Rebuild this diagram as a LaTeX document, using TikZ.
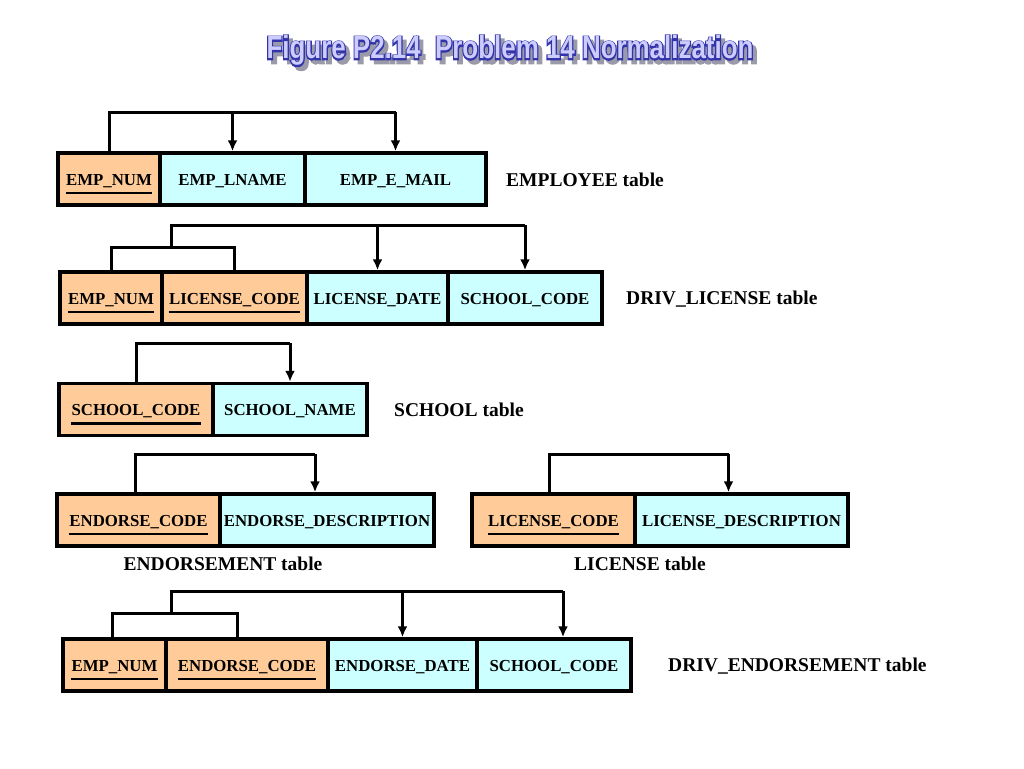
\documentclass[tikz,border=0pt]{standalone}
\usepackage{fontspec}
\setmainfont{Liberation Serif}
\newfontfamily\titlefont{Liberation Sans Bold}
\newfontfamily\titleoutline{Liberation Sans Bold}[FakeBold=9]
\usepackage{tikz}
\usetikzlibrary{arrows.meta}
\definecolor{keyorange}{HTML}{FFCC99}
\definecolor{attrcyan}{HTML}{CCFFFF}
\definecolor{titlefill}{HTML}{CCCCFF}
\definecolor{titleline}{HTML}{3333AA}
\definecolor{titleshade}{HTML}{9A9AA8}
\newcommand{\nffieldfont}{\fontsize{16.8}{18}\selectfont\bfseries}
\newcommand{\nflabelfont}{\fontsize{19.5}{22}\selectfont\bfseries}
\newcommand{\nftitletext}{Figure P2.14\ \ Problem 14 Normalization}
\tikzset{
  keycell/.style={rectangle, draw, line width=3.5pt, fill=keyorange, minimum height=52pt, inner sep=0pt},
  attrcell/.style={rectangle, draw, line width=3.5pt, fill=attrcyan, minimum height=52pt, inner sep=0pt},
  fieldtext/.style={font=\nffieldfont, inner sep=0pt, anchor=base},
  tablename/.style={font=\nflabelfont, inner sep=0pt},
  titletext/.style={inner sep=0pt, anchor=base},
  dep/.style={line width=3pt}
}
\newcommand{\nfkey}[4] {\node at (#1) (#2) [keycell, minimum width=#3pt] {}; \node at ([yshift=-6pt]#2.center) (#2-t) [fieldtext] {#4}; \draw [line width=2.5pt] ([yshift=-8pt]#2-t.base west) -- ([yshift=-8pt]#2-t.base east);}
\newcommand{\nfattr}[4] {\node at (#1) (#2) [attrcell, minimum width=#3pt] {}; \node at ([yshift=-6pt]#2.center) (#2-t) [fieldtext] {#4};}
\newcommand{\nfarrow}[2] {\draw [dep, -{Latex[length=11pt,width=10pt]}] (#1) -- (#2);}

\begin{document}
\begin{tikzpicture}[x=1pt, y=-1pt]
\useasboundingbox (0,0) rectangle (1024,768);

% title
\node at (514,63) (shadow) [titletext, text=titleshade] {\scalebox{0.81}[1]{\titleoutline\fontsize{32}{34}\selectfont\nftitletext}};
\node at (510,59) (titleback) [titletext, text=titleline] {\scalebox{0.81}[1]{\titleoutline\fontsize{32}{34}\selectfont\nftitletext}};
\node at (510,59) (title) [titletext, text=titlefill] {\scalebox{0.81}[1]{\titlefont\fontsize{32}{34}\selectfont\nftitletext}};

% EMPLOYEE
\nfkey {109,179} {e1num} {102} {EMP\_NUM};
\nfattr {232.5,179} {e1lname} {145} {EMP\_LNAME};
\nfattr {395.5,179} {e1mail} {181} {EMP\_E\_MAIL};
\coordinate (e1top) at (0,112);
\draw [dep] (e1num.north) |- (e1mail.north |- e1top);
\nfarrow{e1lname.north |- e1top}{e1lname.north};
\nfarrow{e1mail.north |- e1top}{e1mail.north};
\node at (506,180) (e1label) [tablename, anchor=west] {EMPLOYEE table};

% DRIV_LICENSE
\nfkey {111,298} {d2emp} {102} {EMP\_NUM};
\nfkey {234.5,298} {d2code} {145} {LICENSE\_CODE};
\nfattr {377.5,298} {d2date} {141} {LICENSE\_DATE};
\nfattr {525,298} {d2school} {154} {SCHOOL\_CODE};
\coordinate (d2key) at (171,247);
\coordinate (d2top) at (0,225);
\draw [dep] (d2emp.north) |- (d2key) -| (d2code.north);
\draw [dep] (d2key) |- (d2school.north |- d2top);
\nfarrow{d2date.north |- d2top}{d2date.north};
\nfarrow{d2school.north |- d2top}{d2school.north};
\node at (626,299) (d2label) [tablename, anchor=west] {DRIV\_LICENSE table};

% SCHOOL
\nfkey {136,409.5} {s3code} {154} {SCHOOL\_CODE};
\nfattr {290,409.5} {s3name} {154} {SCHOOL\_NAME};
\coordinate (s3top) at (0,343);
\draw [dep] (s3code.north) |- (s3name.north |- s3top);
\nfarrow{s3name.north |- s3top}{s3name.north};
\node at (394,410) (s3label) [tablename, anchor=west] {SCHOOL table};

% ENDORSEMENT
\nfkey {138.5,520} {n4code} {163} {ENDORSE\_CODE};
\nfattr {327,520} {n4desc} {214} {ENDORSE\_DESCRIPTION};
\coordinate (n4top) at (0,454);
\draw [dep] ([xshift=-3pt]n4code.north) |- ([xshift=-12pt]n4desc.north |- n4top);
\nfarrow{[xshift=-12pt]n4desc.north |- n4top}{[xshift=-12pt]n4desc.north};
\node at (223,564) (n4label) [tablename] {ENDORSEMENT table};

% LICENSE
\nfkey {553.5,520} {l5code} {163} {LICENSE\_CODE};
\nfattr {741.5,520} {l5desc} {213} {LICENSE\_DESCRIPTION};
\coordinate (l5top) at (0,454);
\draw [dep] ([xshift=-4pt]l5code.north) |- ([xshift=-13pt]l5desc.north |- l5top);
\nfarrow{[xshift=-13pt]l5desc.north |- l5top}{[xshift=-13pt]l5desc.north};
\node at (640,564) (l5label) [tablename] {LICENSE table};

% DRIV_ENDORSEMENT
\nfkey {114.5,665} {r6emp} {103} {EMP\_NUM};
\nfkey {247,665} {r6code} {162} {ENDORSE\_CODE};
\nfattr {402.5,665} {r6date} {149} {ENDORSE\_DATE};
\nfattr {554,665} {r6school} {154} {SCHOOL\_CODE};
\coordinate (r6key) at (171,613);
\coordinate (r6top) at (0,591);
\draw [dep] ([xshift=-2pt]r6emp.north) |- (r6key) -| ([xshift=-10pt]r6code.north);
\draw [dep] (r6key) |- ([xshift=9pt]r6school.north |- r6top);
\nfarrow{r6date.north |- r6top}{r6date.north};
\nfarrow{[xshift=9pt]r6school.north |- r6top}{[xshift=9pt]r6school.north};
\node at (668,666) (r6label) [tablename, anchor=west] {DRIV\_ENDORSEMENT table};
\end{tikzpicture}
\end{document}
